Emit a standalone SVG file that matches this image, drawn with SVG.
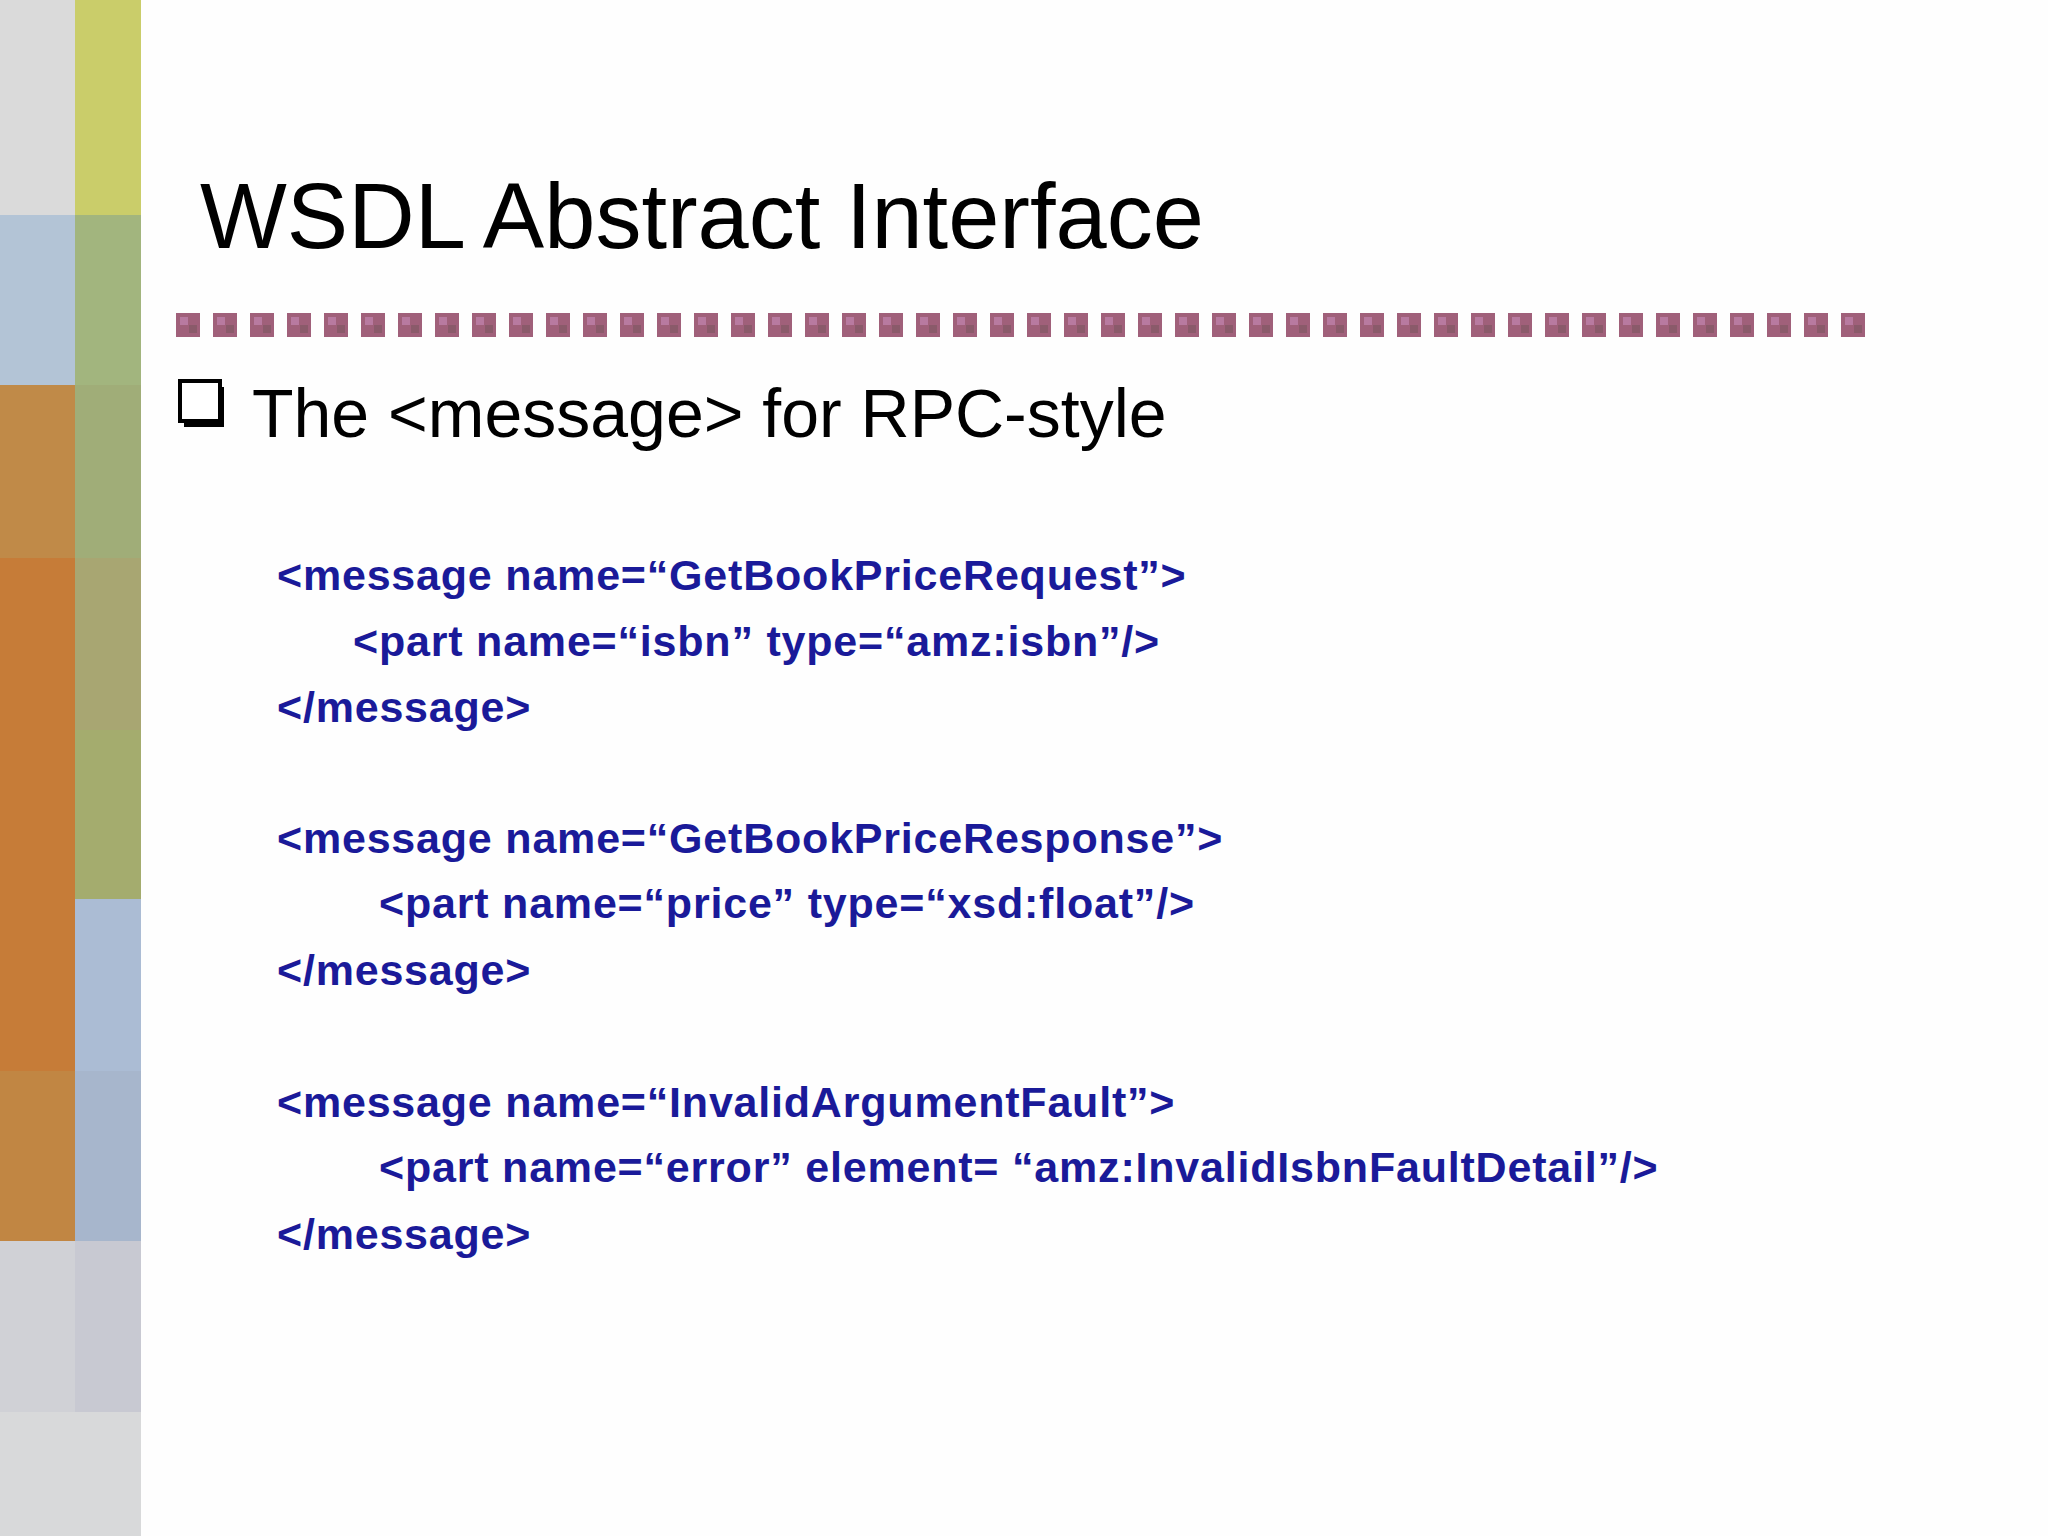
<svg xmlns="http://www.w3.org/2000/svg" width="2048" height="1536" viewBox="0 0 2048 1536">
<defs>
<style>
.c{font-family:"Liberation Sans",Arial,sans-serif;font-weight:bold;font-size:43px;letter-spacing:0.8px;fill:#1a1a99}
.t{font-family:"Liberation Sans",Arial,sans-serif;fill:#000}
</style>
<pattern id="sq" x="176" y="313" width="37" height="24" patternUnits="userSpaceOnUse">
<rect width="24" height="24" fill="#a0607a"/>
<rect x="4" y="4" width="8" height="8" fill="#b87aa0"/>
<rect x="13" y="12" width="8" height="8" fill="#8a5a6a"/>
</pattern>
</defs>
<rect width="2048" height="1536" fill="#fefefe"/>
<g id="sidebar">
<rect x="0" y="0" width="75" height="215" fill="#dadada"/>
<rect x="0" y="215" width="75" height="170" fill="#b3c4d6"/>
<rect x="0" y="385" width="75" height="173" fill="#c08a48"/>
<rect x="0" y="558" width="75" height="683" fill="#c67c38"/>
<rect x="0" y="1071" width="75" height="170" fill="#c18643"/>
<rect x="0" y="1241" width="75" height="171" fill="#d0d1d6"/>
<rect x="0" y="1412" width="141" height="124" fill="#d8d9da"/>
<rect x="75" y="0" width="66" height="215" fill="#cacd6a"/>
<rect x="75" y="215" width="66" height="170" fill="#a2b57e"/>
<rect x="75" y="385" width="66" height="173" fill="#a0ad78"/>
<rect x="75" y="558" width="66" height="172" fill="#a8a672"/>
<rect x="75" y="730" width="66" height="169" fill="#a4ac6e"/>
<rect x="75" y="899" width="66" height="172" fill="#abbcd4"/>
<rect x="75" y="1071" width="66" height="170" fill="#a7b6cc"/>
<rect x="75" y="1241" width="66" height="171" fill="#c8c9d2"/>
</g>
<g id="title"><text class="t" x="200" y="248" font-size="92">WSDL Abstract Interface</text></g>
<g id="divider"><rect x="176" y="313" width="1689" height="24" fill="url(#sq)"/></g>
<g id="bullet">
<rect x="184" y="387" width="40" height="40" fill="#000"/>
<rect x="180" y="381" width="40" height="40" fill="#fff" stroke="#000" stroke-width="4"/>
<text class="t" x="252" y="437" font-size="68">The &lt;message&gt; for RPC-style</text>
</g>
<g id="code">
<text class="c" x="277" y="590">&lt;message name=“GetBookPriceRequest”&gt;</text>
<text class="c" x="353" y="656">&lt;part name=“isbn” type=“amz:isbn”/&gt;</text>
<text class="c" x="277" y="722">&lt;/message&gt;</text>
<text class="c" x="277" y="853">&lt;message name=“GetBookPriceResponse”&gt;</text>
<text class="c" x="379" y="918">&lt;part name=“price” type=“xsd:float”/&gt;</text>
<text class="c" x="277" y="985">&lt;/message&gt;</text>
<text class="c" x="277" y="1117">&lt;message name=“InvalidArgumentFault”&gt;</text>
<text class="c" x="379" y="1182">&lt;part name=“error” element= “amz:InvalidIsbnFaultDetail”/&gt;</text>
<text class="c" x="277" y="1249">&lt;/message&gt;</text>
</g>
</svg>
